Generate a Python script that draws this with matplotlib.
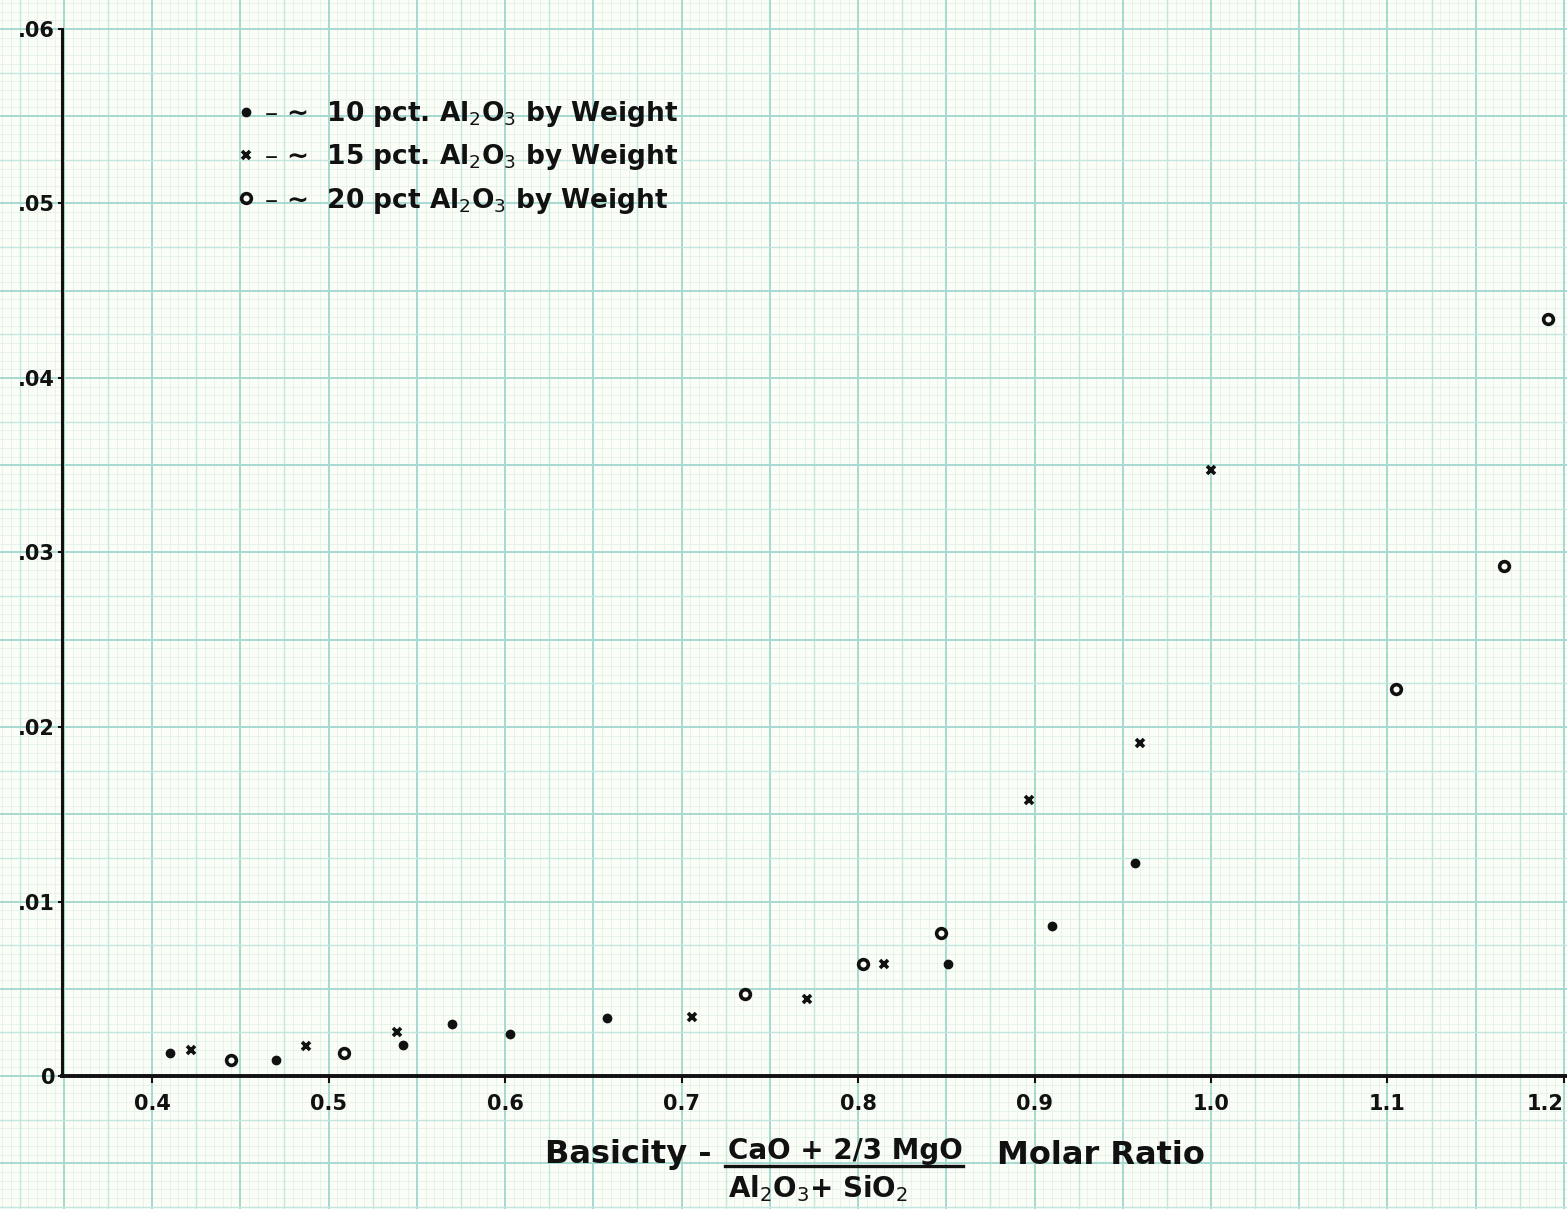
import numpy as np
import matplotlib
matplotlib.use("Agg")
import matplotlib.pyplot as plt
from matplotlib.lines import Line2D

# ---------------- data ----------------
basicity_10 = [0.410, 0.470, 0.542, 0.570, 0.603, 0.658, 0.851, 0.910, 0.957]
value_10 = [0.0013, 0.0009, 0.0018, 0.0030, 0.0024, 0.0033, 0.0064, 0.0086, 0.0122]

basicity_15 = [0.422, 0.487, 0.539, 0.706, 0.771, 0.815, 0.897, 0.960, 1.000]
value_15 = [0.0015, 0.0017, 0.0025, 0.0034, 0.0044, 0.0064, 0.0158, 0.0191, 0.0347]

basicity_20 = [0.445, 0.509, 0.736, 0.803, 0.847, 1.105, 1.166, 1.191]
value_20 = [0.0009, 0.0013, 0.0047, 0.0064, 0.0082, 0.0222, 0.0292, 0.0434]

x_ticks = [0.4, 0.5, 0.6, 0.7, 0.8, 0.9, 1.0, 1.1, 1.2]
x_tick_labels = ["0.4", "0.5", "0.6", "0.7", "0.8", "0.9", "1.0", "1.1", "1.2"]
y_ticks = [0.0, 0.01, 0.02, 0.03, 0.04, 0.05, 0.06]
y_tick_labels = ["0", ".01", ".02", ".03", ".04", ".05", ".06"]

legend_labels = [
    "– ∼  10 pct. Al$_2$O$_3$ by Weight",
    "– ∼  15 pct. Al$_2$O$_3$ by Weight",
    "– ∼  20 pct Al$_2$O$_3$ by Weight",
]

# ---------------- figure / layout ----------------
W, H = 1567, 1209
fig = plt.figure(figsize=(W / 100, H / 100), dpi=100)
ax = fig.add_axes([0, 0, 1, 1])

paper = "#fbfdf7"
ax.set_facecolor(paper)
fig.patch.set_facecolor(paper)

x_lo, x_hi = 0.31388, 1.2017
y_lo, y_hi = -0.00762, 0.06166
ax.set_xlim(x_lo, x_hi)
ax.set_ylim(y_lo, y_hi)

# graph paper
fine_c, mid_c, major_c = "#e4f1ec", "#c3e6df", "#a6dad1"
xs = np.arange(0.30, 1.2101, 0.005)
ys = np.arange(-0.0080, 0.0620, 0.0005)
for xv in xs:
    k = int(round((xv - 0.30) / 0.005))
    if k % 10 == 0:
        ax.axvline(xv, color=major_c, lw=1.4, zorder=0.3)
    elif k % 5 == 0:
        ax.axvline(xv, color=mid_c, lw=1.0, zorder=0.3)
    else:
        ax.axvline(xv, color=fine_c, lw=0.6, zorder=0.2)
for yv in ys:
    k = int(round((yv + 0.0080) / 0.0005))
    if k % 10 == 6:
        ax.axhline(yv, color=major_c, lw=1.4, zorder=0.3)
    elif k % 5 == 1:
        ax.axhline(yv, color=mid_c, lw=1.0, zorder=0.3)
    else:
        ax.axhline(yv, color=fine_c, lw=0.6, zorder=0.2)

# axes lines
x_axis_left = 0.349
for s in ["top", "right"]:
    ax.spines[s].set_visible(False)
ax.spines["left"].set_position(("data", x_axis_left))
ax.spines["left"].set_bounds(0.0, 0.06)
ax.spines["left"].set_linewidth(2.2)
ax.spines["bottom"].set_position(("data", 0.0))
ax.spines["bottom"].set_bounds(x_axis_left, x_hi)
ax.spines["bottom"].set_linewidth(2.8)
for s in ["left", "bottom"]:
    ax.spines[s].set_color("#111111")
    ax.spines[s].set_zorder(2.5)

ax.set_xticks(x_ticks)
ax.set_xticklabels(x_tick_labels)
ax.set_yticks(y_ticks)
ax.set_yticklabels(y_tick_labels)
ax.tick_params(axis="x", direction="out", length=5, width=1.5, pad=8,
               labelsize=15, colors="#111111")
ax.tick_params(axis="y", direction="out", length=3, width=1.5, pad=2,
               labelsize=15, colors="#111111")
for lab in ax.get_xticklabels() + ax.get_yticklabels():
    lab.set_fontweight("bold")
ax.get_xticklabels()[-1].set_horizontalalignment("right")

# ---------------- data marks ----------------
h10, = ax.plot(basicity_10, value_10, linestyle="none", marker="o", ms=6,
               mfc="#111111", mec="#111111", zorder=3)
h15, = ax.plot(basicity_15, value_15, linestyle="none", marker="x", ms=6,
               mew=2.6, color="#111111", zorder=3)
h20, = ax.plot(basicity_20, value_20, linestyle="none", marker="o", ms=7,
               mfc=paper, mec="#111111", mew=2.6, zorder=3)

leg = ax.legend([h10, h15, h20], legend_labels, loc="upper left",
                bbox_to_anchor=(222 / W, 1 - 86 / H), bbox_transform=fig.transFigure,
                frameon=False, handlelength=0.8, handletextpad=0.3,
                labelspacing=0.5, borderpad=0,
                prop={"size": 19, "weight": "bold"})
for t in leg.get_texts():
    t.set_color("#111111")


# ---------------- x-axis label (fraction) ----------------
def fx(px):
    return px / W


def fy(py):
    return 1 - py / H


tkw = dict(color="#111111", fontweight="bold")
fig.text(fx(712), fy(1154), "Basicity -", ha="right", va="center", fontsize=23, **tkw)
fig.text(fx(845), fy(1151), "CaO + 2/3 MgO", ha="center", va="center", fontsize=20, **tkw)
fig.add_artist(Line2D([fx(725), fx(963)], [fy(1166), fy(1166)],
                      transform=fig.transFigure, color="#111111", lw=2.4))
fig.text(fx(818), fy(1189), "Al$_2$O$_3$+ SiO$_2$", ha="center", va="center",
         fontsize=20, **tkw)
fig.text(fx(997), fy(1155), "Molar Ratio", ha="left", va="center", fontsize=23, **tkw)

fig.savefig("out.png", dpi=100, facecolor=paper)
